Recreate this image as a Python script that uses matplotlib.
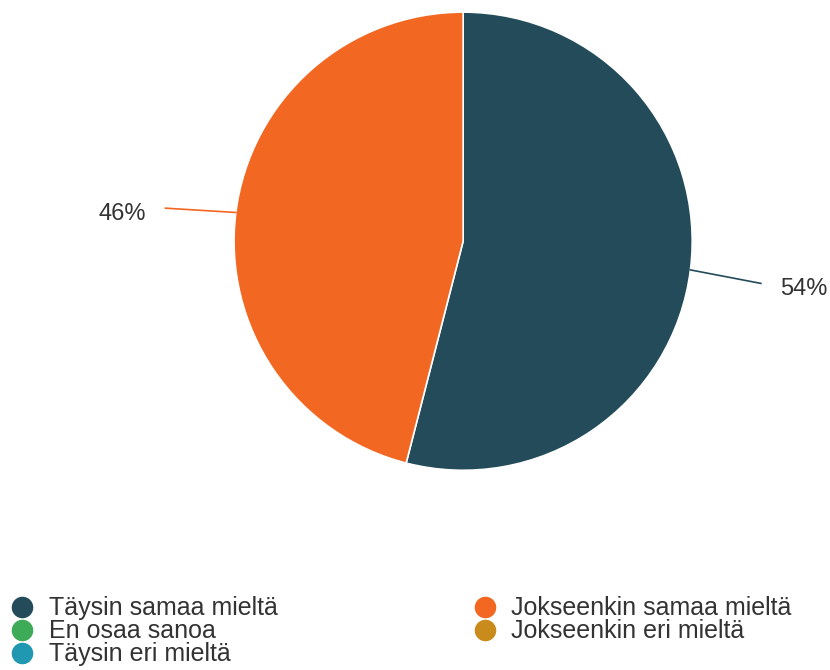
import numpy as np
import matplotlib.pyplot as plt
from matplotlib.lines import Line2D

labels = ["Täysin samaa mieltä", "Jokseenkin samaa mieltä", "En osaa sanoa",
          "Jokseenkin eri mieltä", "Täysin eri mieltä"]
values = [54, 46, 0, 0, 0]
colors = ["#234b5a", "#f26722", "#3dab58", "#c98b1b", "#2198b2"]

plt.rcParams['font.family'] = ['Liberation Sans', 'DejaVu Sans']

fig = plt.figure(figsize=(8.3, 6.7), dpi=100)
ax = fig.add_axes([0.558 - 0.276, 0.640 - 0.342, 0.552, 0.684])

shown = [(v, c) for v, c in zip(values, colors) if v > 0]
wedges, _ = ax.pie([v for v, c in shown], colors=[c for v, c in shown],
                   startangle=90, counterclock=False, radius=1,
                   wedgeprops=dict(edgecolor="white", linewidth=1.2))
ax.set_xlim(-1, 1)
ax.set_ylim(-1, 1)
ax.set_aspect("equal")
ax.axis("off")

for w, (v, c) in zip(wedges, shown):
    mid = np.deg2rad((w.theta1 + w.theta2) / 2)
    x, y = np.cos(mid), np.sin(mid)
    ax.plot([x, 1.31 * x], [y, 1.31 * y - 0.02], color=c,
            lw=1.2, clip_on=False)
    side = np.sign(x)
    ax.text(1.31 * x + side * 0.085, 1.31 * y - 0.045, f"{v}%",
            ha="left" if side > 0 else "right", va="center",
            fontsize=17, color="#333333")

order = [0, 2, 4, 1, 3]
handles = [Line2D([], [], marker="o", linestyle="", markersize=14.5,
                  markerfacecolor=colors[i], markeredgecolor=colors[i])
           for i in order]
fig.legend(handles, [labels[i] for i in order], ncol=2,
           loc="upper left", bbox_to_anchor=(0.012, 0.110),
           frameon=False, fontsize=18, handlelength=1.0, handletextpad=0.55,
           labelspacing=-0.04, columnspacing=7.8, borderaxespad=0,
           borderpad=0, labelcolor="#333333")

fig.savefig("out.png", dpi=100)
